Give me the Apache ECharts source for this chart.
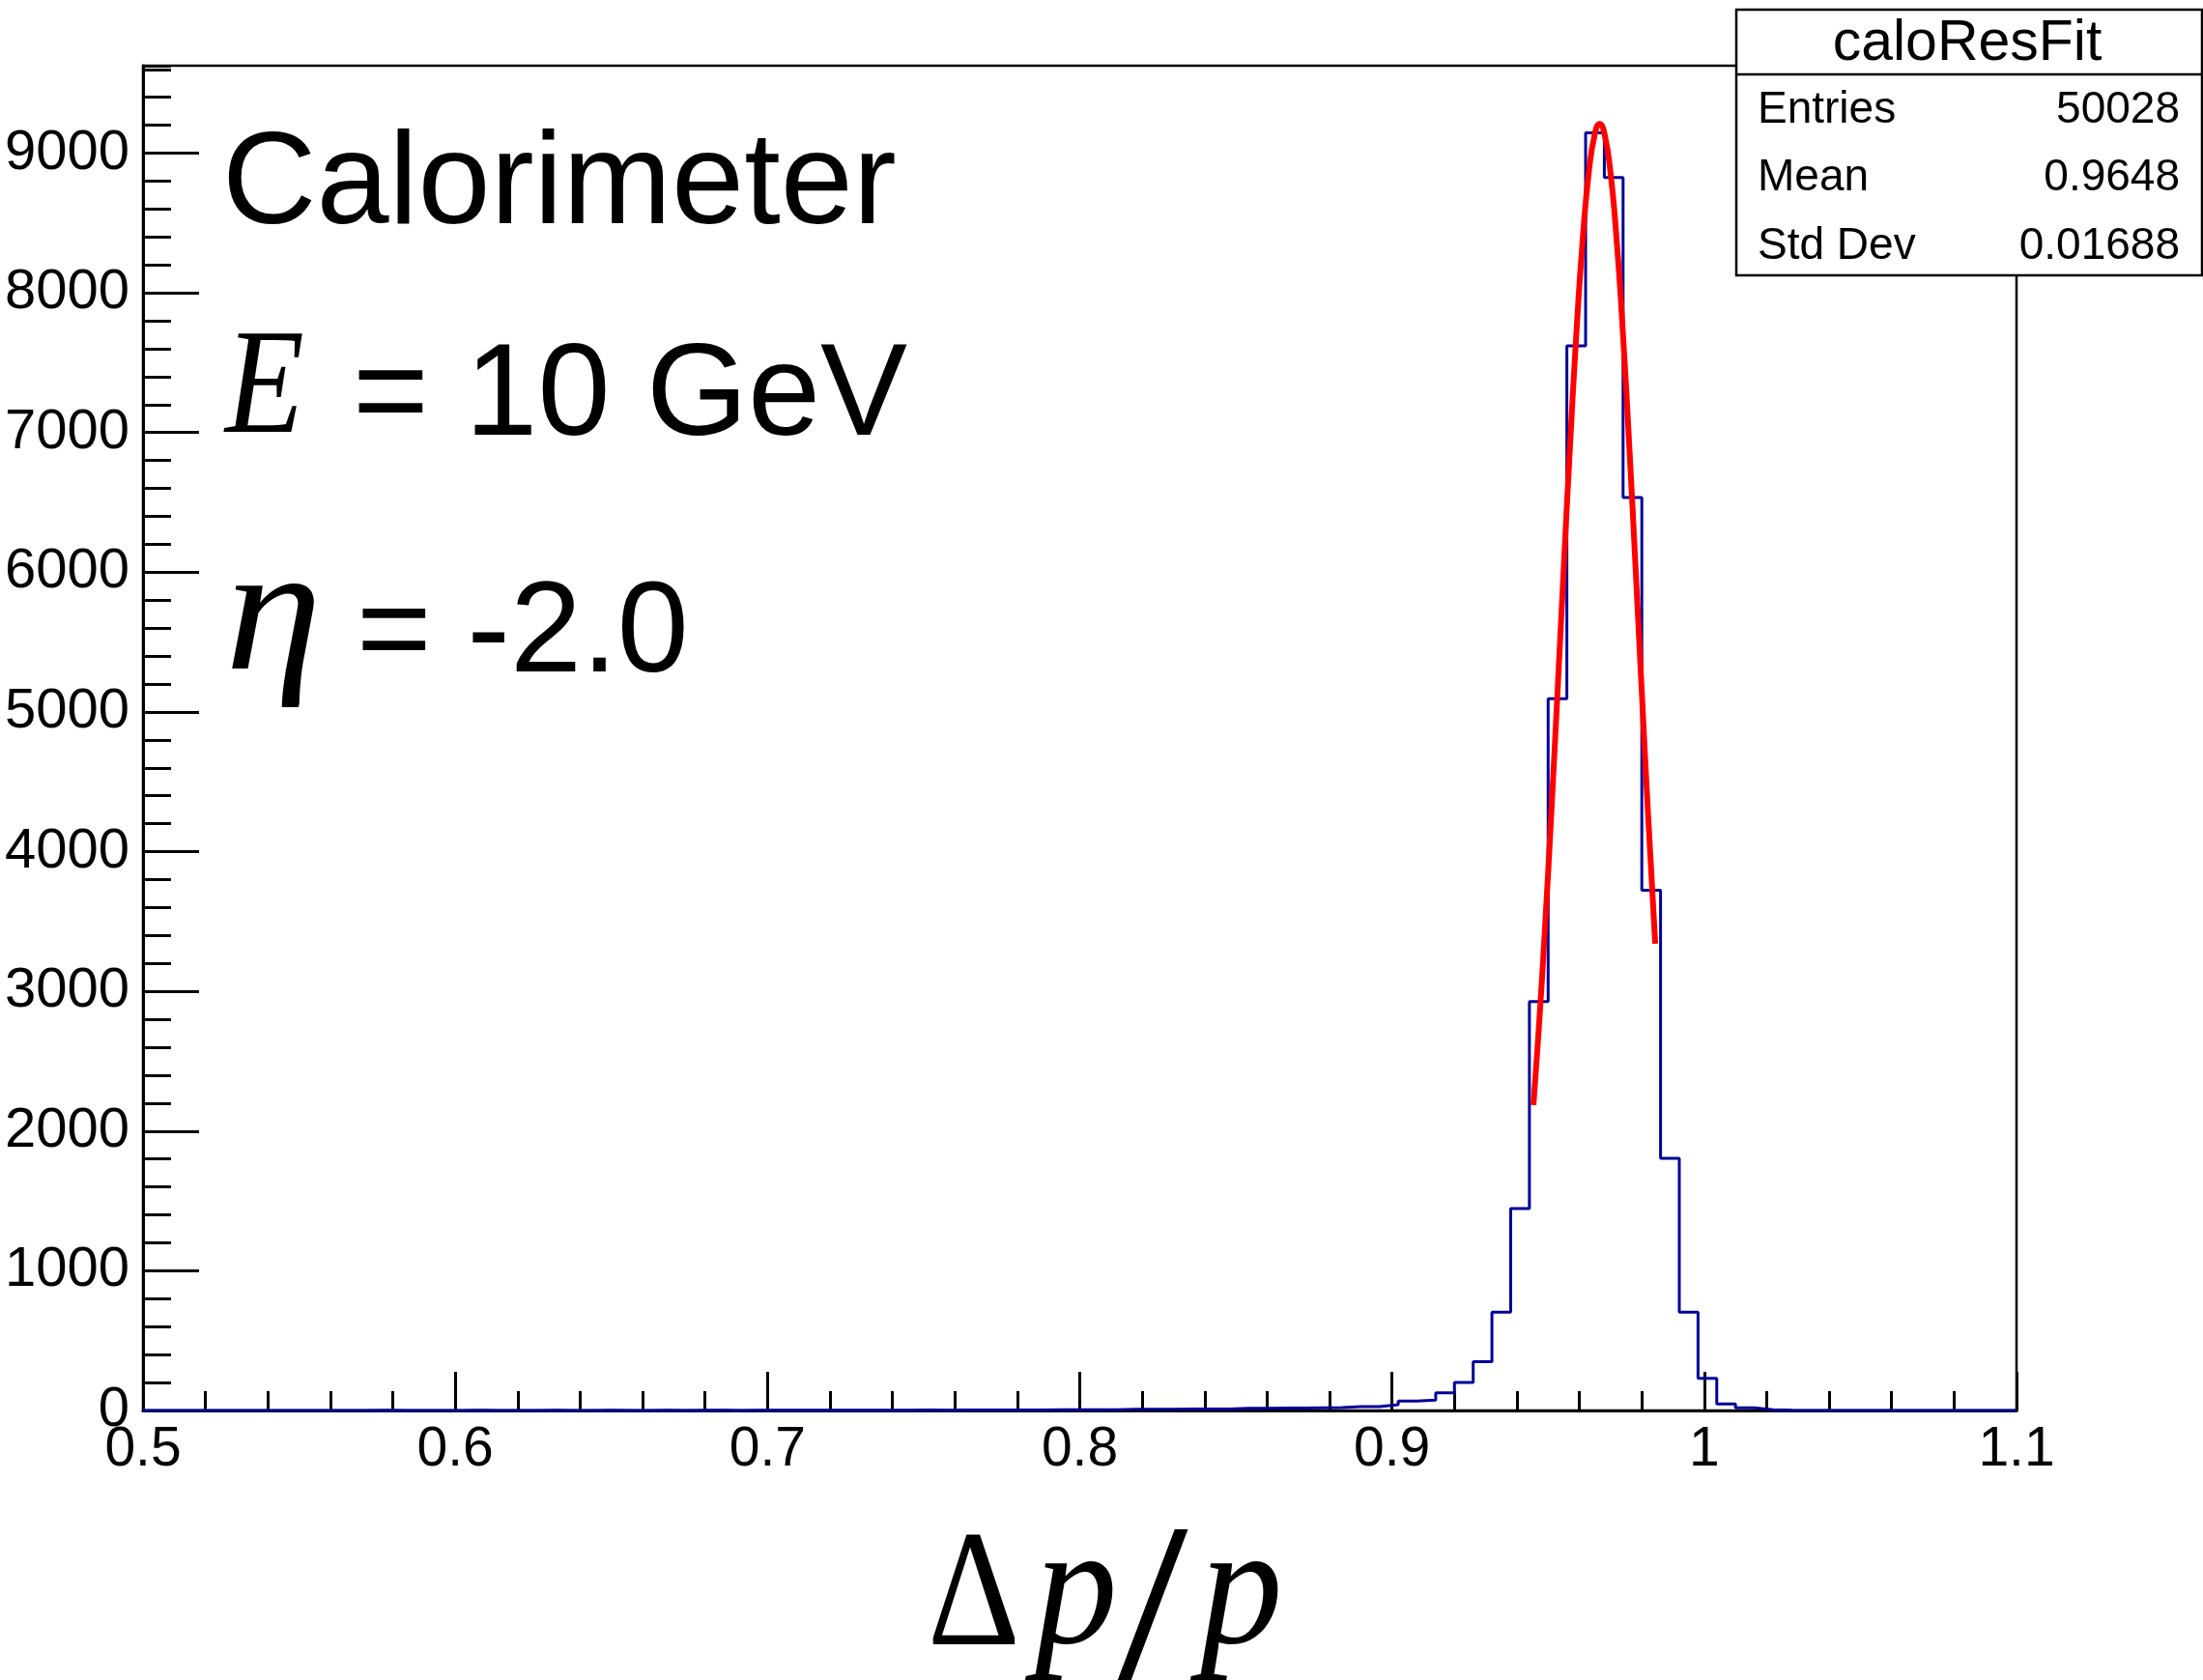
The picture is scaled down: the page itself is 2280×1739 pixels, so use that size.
<!DOCTYPE html>
<html>
<head>
<meta charset="utf-8">
<script src="https://cdn.jsdelivr.net/npm/echarts@6/dist/echarts.min.js"></script>
<style>
  html, body { margin: 0; padding: 0; background: #fff; }
  #calo { width: 2280px; height: 1739px; }
</style>
</head>
<body>
<div id="calo"></div>
<script>
// histogram: 100 bins from 0.5 to 1.1
let binLow = 0.5;
let binWidth = 0.006;
let counts = [
  0, 0, 0, 0, 0, 0, 0, 0, 0, 0,
  0, 0, 1, 0, 0, 0, 0, 1, 0, 0,
  0, 1, 0, 0, 1, 0, 0, 1, 0, 1,
  1, 0, 1, 2, 1, 1, 2, 1, 2, 2,
  2, 3, 2, 3, 3, 4, 3, 4, 5, 5,
  6, 6, 8, 9, 9, 10, 10, 11, 16, 16,
  17, 18, 19, 20, 28, 28, 41, 68, 74, 127,
  200, 350, 703, 1445, 2927, 5095, 7620, 9145, 8825, 6535,
  3723, 1805, 703, 230, 46, 19, 6, 2, 0, 0,
  0, 0, 0, 0, 0, 0, 0, 0, 0, 0,
];

// red fit curve
let fitX = [0.9453, 0.947, 0.949, 0.951, 0.953, 0.955, 0.957, 0.959, 0.961, 0.963, 0.965, 0.9665,
  0.968, 0.970, 0.972, 0.974, 0.976, 0.978, 0.980, 0.982, 0.9843];
let fitY = [2186, 2728, 3457, 4270, 5140, 6033, 6900, 7693, 8360, 8856, 9144, 9210,
  9144, 8856, 8360, 7693, 6900, 6033, 5140, 4270, 3341];

let xMin = 0.5, xMax = 1.1, xMajor = 0.1, xMinor = 0.02;
let yMin = 0, yMax = 9626, yMajor = 1000, yMinor = 200;

let statLabels = ["Entries", "Mean", "Std Dev"];
let statValues = ["50028", "0.9648", "0.01688"];

let sans = "Liberation Sans, Arial, Helvetica, sans-serif";
let serif = "Liberation Serif, Times New Roman, serif";

var dom = document.getElementById("calo");
var chart = echarts.init(dom);

let histData = counts.map(function (c, i) {
  return [binLow + i * binWidth, c];
});
histData.push([binLow + counts.length * binWidth, counts[counts.length - 1]]);
let fitData = fitX.map(function (x, i) {
  return [x, fitY[i]];
});

function txt(text, x, y, font, opts) {
  opts = opts || {};
  return {
    type: "text",
    x: x,
    y: y,
    z: 100,
    scaleX: opts.scaleX || 1,
    style: {
      text: text,
      font: font,
      fill: "#000",
      align: opts.align || "left",
      verticalAlign: "middle",
    },
  };
}

let graphics = [
  txt("Calorimeter", 230, 194, "135px " + sans),
  txt("E", 233, 407, "italic 154px " + serif, { scaleX: 0.87 }),
  txt("= 10 GeV", 365, 413, "135px " + sans),
  txt("\u03b7", 233, 643, "italic 187px " + serif, { scaleX: 1.08 }),
  txt("= -2.0", 369, 658, "133px " + sans),
  // axis title  Δp/p
  txt("\u0394", 960, 1657, "171px " + serif, { scaleX: 0.87 }),
  txt("p", 1071, 1654, "italic 180px " + serif, { scaleX: 0.95 }),
  txt("/", 1150, 1686, "260px " + serif, { scaleX: 1.1 }),
  txt("p", 1242, 1654, "italic 180px " + serif, { scaleX: 0.95 }),
  // stats box
  {
    type: "rect",
    z: 99,
    shape: { x: 1797, y: 10, width: 482, height: 275 },
    style: { fill: "#fff", stroke: "#000", lineWidth: 2.5 },
  },
  {
    type: "line",
    z: 100,
    shape: { x1: 1797, y1: 77, x2: 2279, y2: 77 },
    style: { stroke: "#000", lineWidth: 2.5 },
  },
  txt("caloResFit", 2036, 46, "59px " + sans, { align: "center" }),
];
let rowY = [114, 184, 255];
statLabels.forEach(function (s, i) {
  graphics.push(txt(s, 1819, rowY[i], "46px " + sans));
  graphics.push(txt(statValues[i], 2256, rowY[i], "46px " + sans, { align: "right" }));
});

let option = {
  animation: false,
  backgroundColor: "#fff",
  grid: {
    left: 148,
    right: 193,
    top: 68,
    bottom: 279,
    show: true,
    borderColor: "#000",
    borderWidth: 2.5,
  },
  xAxis: [
    {
      type: "value",
      min: xMin,
      max: xMax,
      interval: xMajor,
      position: "bottom",
      splitLine: { show: false },
      axisLine: { show: true, onZero: false, lineStyle: { color: "#000", width: 3 } },
      axisTick: { show: true, inside: true, length: 40, lineStyle: { color: "#000", width: 3 } },
      axisLabel: {
        color: "#000",
        fontFamily: sans,
        fontSize: 57,
        margin: 13,
        formatter: function (v) {
          return String(Math.round(v * 10) / 10);
        },
      },
    },
    {
      type: "value",
      min: xMin,
      max: xMax,
      interval: xMinor,
      position: "bottom",
      splitLine: { show: false },
      axisLine: { show: false, onZero: false },
      axisTick: { show: true, inside: true, length: 20, lineStyle: { color: "#000", width: 3 } },
      axisLabel: { show: false },
    },
  ],
  yAxis: [
    {
      type: "value",
      min: yMin,
      max: yMax,
      interval: yMajor,
      position: "left",
      splitLine: { show: false },
      axisLine: { show: true, onZero: false, lineStyle: { color: "#000", width: 3 } },
      axisTick: { show: true, inside: true, length: 58, lineStyle: { color: "#000", width: 3 } },
      axisLabel: {
        color: "#000",
        fontFamily: sans,
        fontSize: 58,
        margin: 14,
        showMaxLabel: false,
        formatter: function (v) {
          return String(v);
        },
      },
    },
    {
      type: "value",
      min: yMin,
      max: yMax,
      interval: yMinor,
      position: "left",
      splitLine: { show: false },
      axisLine: { show: false, onZero: false },
      axisTick: { show: true, inside: true, length: 29, lineStyle: { color: "#000", width: 3 } },
      axisLabel: { show: false },
    },
  ],
  series: [
    {
      name: "caloResFit",
      type: "line",
      step: "end",
      xAxisIndex: 0,
      yAxisIndex: 0,
      symbol: "none",
      data: histData,
      lineStyle: { color: "#000099", width: 3 },
      z: 3,
    },
    {
      name: "fit",
      type: "line",
      xAxisIndex: 0,
      yAxisIndex: 0,
      symbol: "none",
      smooth: true,
      data: fitData,
      lineStyle: { color: "#ff0000", width: 6 },
      z: 4,
    },
  ],
  graphic: graphics,
};
chart.setOption(option, true);
</script>
</body>
</html>
